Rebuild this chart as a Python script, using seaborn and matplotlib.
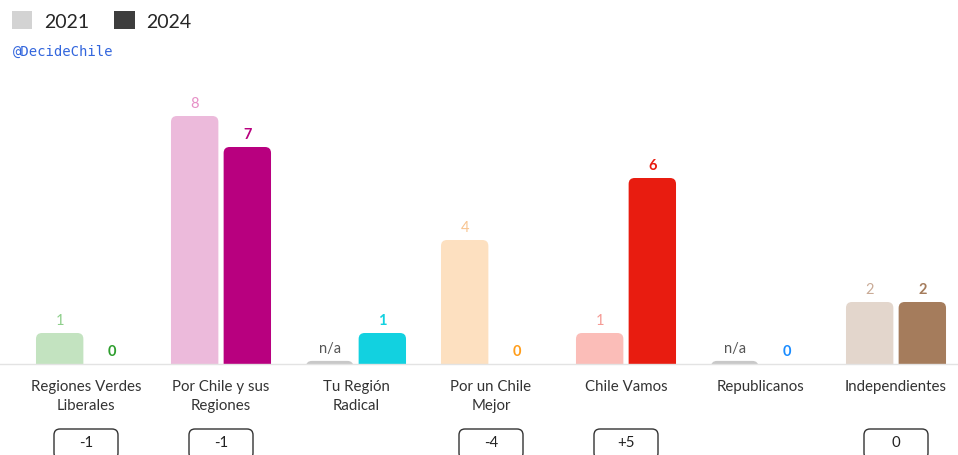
import numpy as np
import pandas as pd
import matplotlib
matplotlib.use('Agg')
import matplotlib.pyplot as plt
import seaborn as sns
from matplotlib.patches import FancyBboxPatch, Patch
from matplotlib.transforms import IdentityTransform

coaliciones = ['Regiones Verdes\nLiberales', 'Por Chile y sus\nRegiones', 'Tu Región\nRadical',
               'Por un Chile\nMejor', 'Chile Vamos', 'Republicanos', 'Independientes']
v2021 = [1, 8, np.nan, 4, 1, np.nan, 2]
v2024 = [0, 7, 1, 0, 6, 0, 2]
diffs = ['-1', '-1', '', '-4', '+5', '', '0']

light = ['#c3e3c0', '#ecbadb', '#c8c8c8', '#fde0c0', '#fbbdb8', '#c8c8c8', '#e3d6cc']
dark = ['#2e9e2e', '#b8007f', '#12d1e0', '#ff9d1a', '#e81c10', '#1a8cff', '#a57c5c']
light_txt = ['#8ecf8b', '#e68fc6', '#555555', '#f8c490', '#f59a94', '#555555', '#c9aa96']

sns.set_theme(style='white')
plt.rcParams['font.family'] = ['Lato', 'DejaVu Sans']

df = pd.DataFrame({'coalicion': coaliciones * 2,
                   'year': ['2021'] * 7 + ['2024'] * 7,
                   'value': v2021 + v2024})
df['plot'] = df['value'].fillna(0.1)  # n/a -> small grey stub

fig = plt.figure(figsize=(9.58, 4.56), dpi=100)
W, H = 958, 456
base = 365
ppu = 31  # pixels per unit
top = 80
ax = fig.add_axes([0, (H - base) / H, 1, (base - top) / H])
sns.barplot(df, x='coalicion', y='plot', hue='year', hue_order=['2021', '2024'],
            order=coaliciones, width=0.78, gap=0.1, ax=ax, legend=False)

px = 135
x0 = 86
ax.set_xlim(-x0 / px, (W - x0) / px)
ax.set_ylim(0, (base - top) / ppu)

r = 6
# rounded tops
for ci, cont in enumerate(ax.containers):
    for bar in cont:
        x, w, h = bar.get_x(), bar.get_width(), bar.get_height()
        i = int(round(x + w / 2))
        bar.set_visible(False)
        if h <= 0:
            continue
        col = light[i] if ci == 0 else dark[i]
        ext = r / ppu
        fb = FancyBboxPatch((x, -ext), w, h + ext,
                            boxstyle=f'round,pad=0,rounding_size={r / px}',
                            mutation_aspect=px / ppu, fc=col, ec='none')
        ax.add_patch(fb)

# value labels
for ci, vals in enumerate([v2021, v2024]):
    for i, v in enumerate(vals):
        xo = i - 0.195 if ci == 0 else i + 0.195
        if np.isnan(v):
            txt, y, c = 'n/a', 0.1, '#555555'
        else:
            txt, y = f'{int(v)}', v
            c = light_txt[i] if ci == 0 else dark[i]
        ax.annotate(txt, (xo, y), xytext=(0, 4), textcoords='offset points',
                    ha='center', va='bottom', fontsize=10.5, color=c,
                    fontweight='bold' if ci == 1 else 'normal')

# category labels
for i, lab in enumerate(coaliciones):
    ax.annotate(lab, (i, 0), xycoords=('data', 'axes fraction'), xytext=(0, -11),
                textcoords='offset points', ha='center', va='top', fontsize=10.8,
                color='#333333', linespacing=1.45, annotation_clip=False)

# diff boxes
for i, d in enumerate(diffs):
    if not d:
        continue
    cx = ax.transData.transform((i, 0))[0]
    box = FancyBboxPatch((cx - 32, -4), 64, 30, boxstyle='round,pad=0,rounding_size=6',
                         transform=IdentityTransform(), fc='white', ec='#333333', lw=1)
    fig.add_artist(box)
    fig.text(cx / W, 13 / H, d, ha='center', va='center', fontsize=10.8, color='#222222')

ax.set_xticks([])
ax.set_yticks([])
ax.set_xlabel('')
ax.set_ylabel('')
sns.despine(ax=ax, left=True)
ax.spines['bottom'].set_color('#e3e3e3')
ax.spines['bottom'].set_linewidth(1)

handles = [Patch(fc='#d3d3d3', ec='none'), Patch(fc='#3d3d3d', ec='none')]
fig.legend(handles, ['2021', '2024'], loc='upper left', bbox_to_anchor=(-0.006, 1.012),
           ncol=2, frameon=False, fontsize=14, handlelength=1.05, handleheight=1.05,
           handletextpad=0.6, columnspacing=1.3)
fig.text(13 / W, 1 - 52 / H, '@DecideChile', family='DejaVu Sans Mono', fontsize=10,
         color='#3366dd', va='center', ha='left')

fig.savefig('out.png', dpi=100)
